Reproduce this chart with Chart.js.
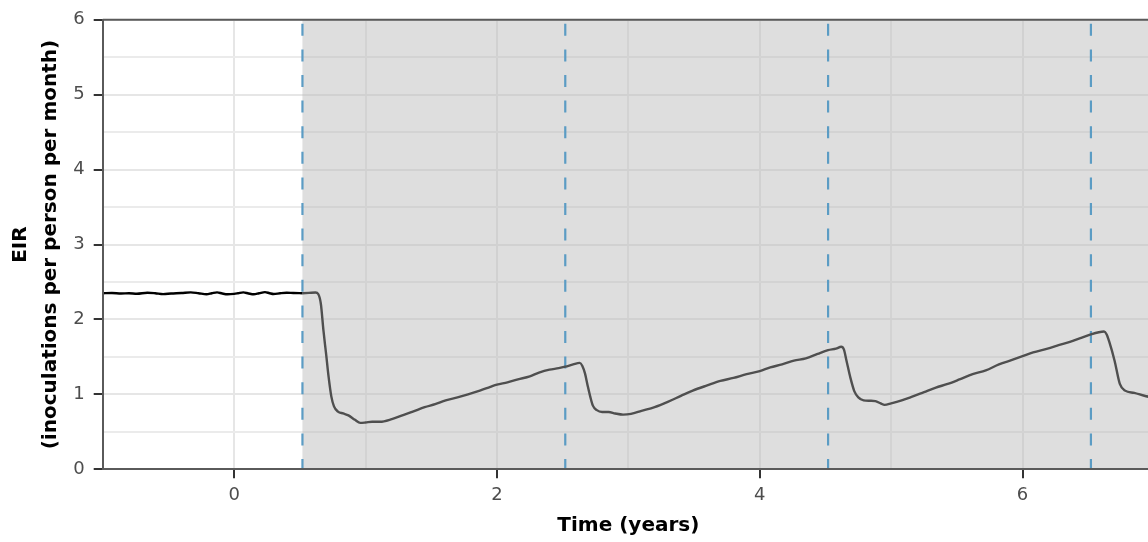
<!DOCTYPE html>
<html>
<head>
<meta charset="utf-8">
<script src="https://cdn.jsdelivr.net/npm/chart.js@4"></script>
<style>
  html, body { margin: 0; padding: 0; background: #ffffff; overflow: hidden; width: 1148px; height: 542px; }
  canvas { display: block; }
</style>
</head>
<body>
<canvas id="eir" width="1160" height="542" style="width:1160px;height:542px"></canvas>
<script>
// Pre-intervention EIR (steady state)
const baselineTime = [-1.00, -0.93, -0.86, -0.80, -0.74, -0.66, -0.60, -0.54, -0.48, -0.40,
                      -0.33, -0.27, -0.21, -0.17, -0.13, -0.09, -0.05, 0.00, 0.03, 0.07,
                      0.11, 0.15, 0.19, 0.235, 0.27, 0.30, 0.35, 0.40, 0.45, 0.52];
const baselineEir  = [2.35, 2.353, 2.347, 2.35, 2.344, 2.357, 2.35, 2.338, 2.346, 2.353,
                      2.362, 2.35, 2.337, 2.35, 2.362, 2.346, 2.336, 2.342, 2.35, 2.362,
                      2.347, 2.336, 2.35, 2.365, 2.35, 2.34, 2.35, 2.356, 2.353, 2.35];

// EIR after the intervention begins
const interventionTime = [0.52, 0.57, 0.62, 0.64, 0.66, 0.68, 0.70, 0.72, 0.74, 0.76,
                          0.79, 0.83, 0.87, 0.92, 0.96, 1.00, 1.05, 1.11, 1.20, 1.28,
                          1.36, 1.45, 1.53, 1.61, 1.70, 1.78, 1.87, 1.95, 2.00, 2.08,
                          2.16, 2.25, 2.32, 2.40, 2.47, 2.52, 2.58, 2.63, 2.65, 2.67,
                          2.69, 2.71, 2.73, 2.76, 2.80, 2.85, 2.90, 2.96, 3.02, 3.10,
                          3.20, 3.30, 3.40, 3.49, 3.60, 3.70, 3.80, 3.90, 4.00, 4.08,
                          4.17, 4.26, 4.35, 4.44, 4.52, 4.58, 4.62, 4.64, 4.66, 4.69,
                          4.72, 4.75, 4.79, 4.84, 4.88, 4.92, 4.95, 5.00, 5.08, 5.16,
                          5.25, 5.34, 5.43, 5.52, 5.62, 5.72, 5.82, 5.92, 6.00, 6.08,
                          6.19, 6.28, 6.36, 6.44, 6.52, 6.58, 6.62, 6.64, 6.66, 6.70,
                          6.74, 6.78, 6.85, 6.94, 7.00];
const interventionEir  = [2.35, 2.355, 2.36, 2.34, 2.21, 1.85, 1.54, 1.22, 0.97, 0.84,
                          0.77, 0.745, 0.72, 0.66, 0.62, 0.625, 0.635, 0.635, 0.67, 0.72,
                          0.77, 0.83, 0.87, 0.92, 0.96, 1.00, 1.05, 1.10, 1.13, 1.16,
                          1.20, 1.24, 1.29, 1.33, 1.35, 1.37, 1.40, 1.42, 1.38, 1.28,
                          1.12, 0.97, 0.85, 0.79, 0.765, 0.765, 0.745, 0.73, 0.74, 0.78,
                          0.83, 0.90, 0.98, 1.05, 1.12, 1.18, 1.22, 1.27, 1.31, 1.36,
                          1.40, 1.45, 1.48, 1.54, 1.59, 1.61, 1.635, 1.60, 1.45, 1.22,
                          1.04, 0.96, 0.92, 0.915, 0.91, 0.88, 0.86, 0.88, 0.92, 0.97,
                          1.03, 1.09, 1.14, 1.20, 1.27, 1.32, 1.40, 1.46, 1.51, 1.56,
                          1.61, 1.66, 1.70, 1.75, 1.80, 1.83, 1.84, 1.80, 1.70, 1.45,
                          1.14, 1.05, 1.02, 0.975, 0.96];

// Intervention rounds (years) and the start of the shaded period
const sprayTimes = [0.52, 2.52, 4.52, 6.52];
const interventionStart = 0.52;

// Axis labels
const xTickLabels = [0, 2, 4, 6];
const yTickLabels = [0, 1, 2, 3, 4, 5, 6];

const AXIS = '#5a5a5a';

const interventionPlugin = {
  id: 'interventionPeriod',
  beforeDatasetsDraw(chart) {
    const { ctx, chartArea: a, scales: { x } } = chart;
    const x0 = x.getPixelForValue(interventionStart);
    ctx.save();
    ctx.fillStyle = 'rgba(185,185,185,0.47)';
    ctx.fillRect(x0, a.top, a.right - x0, a.bottom - a.top);
    ctx.strokeStyle = '#5b9cc4';
    ctx.lineWidth = 2.2;
    ctx.setLineDash([12, 13.6]);
    ctx.lineDashOffset = 21.6;
    sprayTimes.forEach(t => {
      const px = x.getPixelForValue(t);
      ctx.beginPath();
      ctx.moveTo(px, a.top);
      ctx.lineTo(px, a.bottom);
      ctx.stroke();
    });
    ctx.restore();
  },
  afterDraw(chart) {
    const { ctx, chartArea: a } = chart;
    ctx.save();
    ctx.strokeStyle = AXIS;
    ctx.lineWidth = 2;
    ctx.beginPath();
    ctx.moveTo(a.left, a.top);
    ctx.lineTo(a.right + 4, a.top);
    ctx.stroke();
    ctx.restore();
  }
};

const toPoints = (xs, ys) => xs.map((t, i) => ({ x: t, y: ys[i] }));

const isMajorX = v => xTickLabels.includes(v);
const isMajorY = v => yTickLabels.includes(v);

new Chart(document.getElementById('eir'), {
  type: 'line',
  data: {
    datasets: [
      {
        label: 'Baseline',
        data: toPoints(baselineTime, baselineEir),
        borderColor: '#000000',
        borderWidth: 2.4,
        pointRadius: 0,
        cubicInterpolationMode: 'monotone'
      },
      {
        label: 'Intervention',
        data: toPoints(interventionTime, interventionEir),
        borderColor: '#4f4f4f',
        borderWidth: 2.4,
        pointRadius: 0,
        cubicInterpolationMode: 'monotone'
      }
    ]
  },
  options: {
    responsive: false,
    devicePixelRatio: 1,
    animation: false,
    layout: { padding: { top: 18.3, right: 3.3, left: 0, bottom: 0 } },
    plugins: { legend: { display: false }, tooltip: { enabled: false } },
    scales: {
      x: {
        type: 'linear',
        min: -1,
        max: 7,
        afterFit: s => { s.height = 72.7; },
        ticks: {
          stepSize: 1,
          includeBounds: false,
          autoSkip: false,
          maxRotation: 0,
          padding: 6,
          color: '#4d4d4d',
          font: { family: 'DejaVu Sans', size: 18 },
          callback: v => isMajorX(v) ? String(v) : ''
        },
        grid: {
          color: c => isMajorX(c.tick.value) ? '#e6e6e6' : '#ebebeb',
          lineWidth: 2,
          tickLength: 9,
          tickWidth: 2,
          tickColor: c => isMajorX(c.tick.value) ? '#333333' : 'rgba(0,0,0,0)'
        },
        border: { color: AXIS, width: 2, z: 1 },
        title: {
          display: true,
          text: 'Time (years)',
          color: '#000000',
          font: { family: 'DejaVu Sans', size: 20, weight: 'bold' },
          padding: { top: 0, bottom: 4 }
        }
      },
      y: {
        type: 'linear',
        min: 0,
        max: 6,
        afterFit: s => { s.width = 102.7; },
        ticks: {
          stepSize: 0.5,
          autoSkip: false,
          padding: 9,
          color: '#4d4d4d',
          font: { family: 'DejaVu Sans', size: 18 },
          callback: v => isMajorY(v) ? String(v) : ''
        },
        grid: {
          color: c => isMajorY(c.tick.value) ? '#e6e6e6' : '#ebebeb',
          lineWidth: 2,
          tickLength: 9,
          tickWidth: 2,
          tickColor: c => isMajorY(c.tick.value) ? '#333333' : 'rgba(0,0,0,0)'
        },
        border: { color: AXIS, width: 2, z: 1 },
        title: {
          display: true,
          text: ['EIR', '(inoculations per person per month)'],
          color: '#000000',
          font: { family: 'DejaVu Sans', size: 20, weight: 'bold', lineHeight: 1.5 },
          padding: { top: 6, bottom: 0 }
        }
      }
    }
  },
  plugins: [interventionPlugin]
});
</script>
</body>
</html>
